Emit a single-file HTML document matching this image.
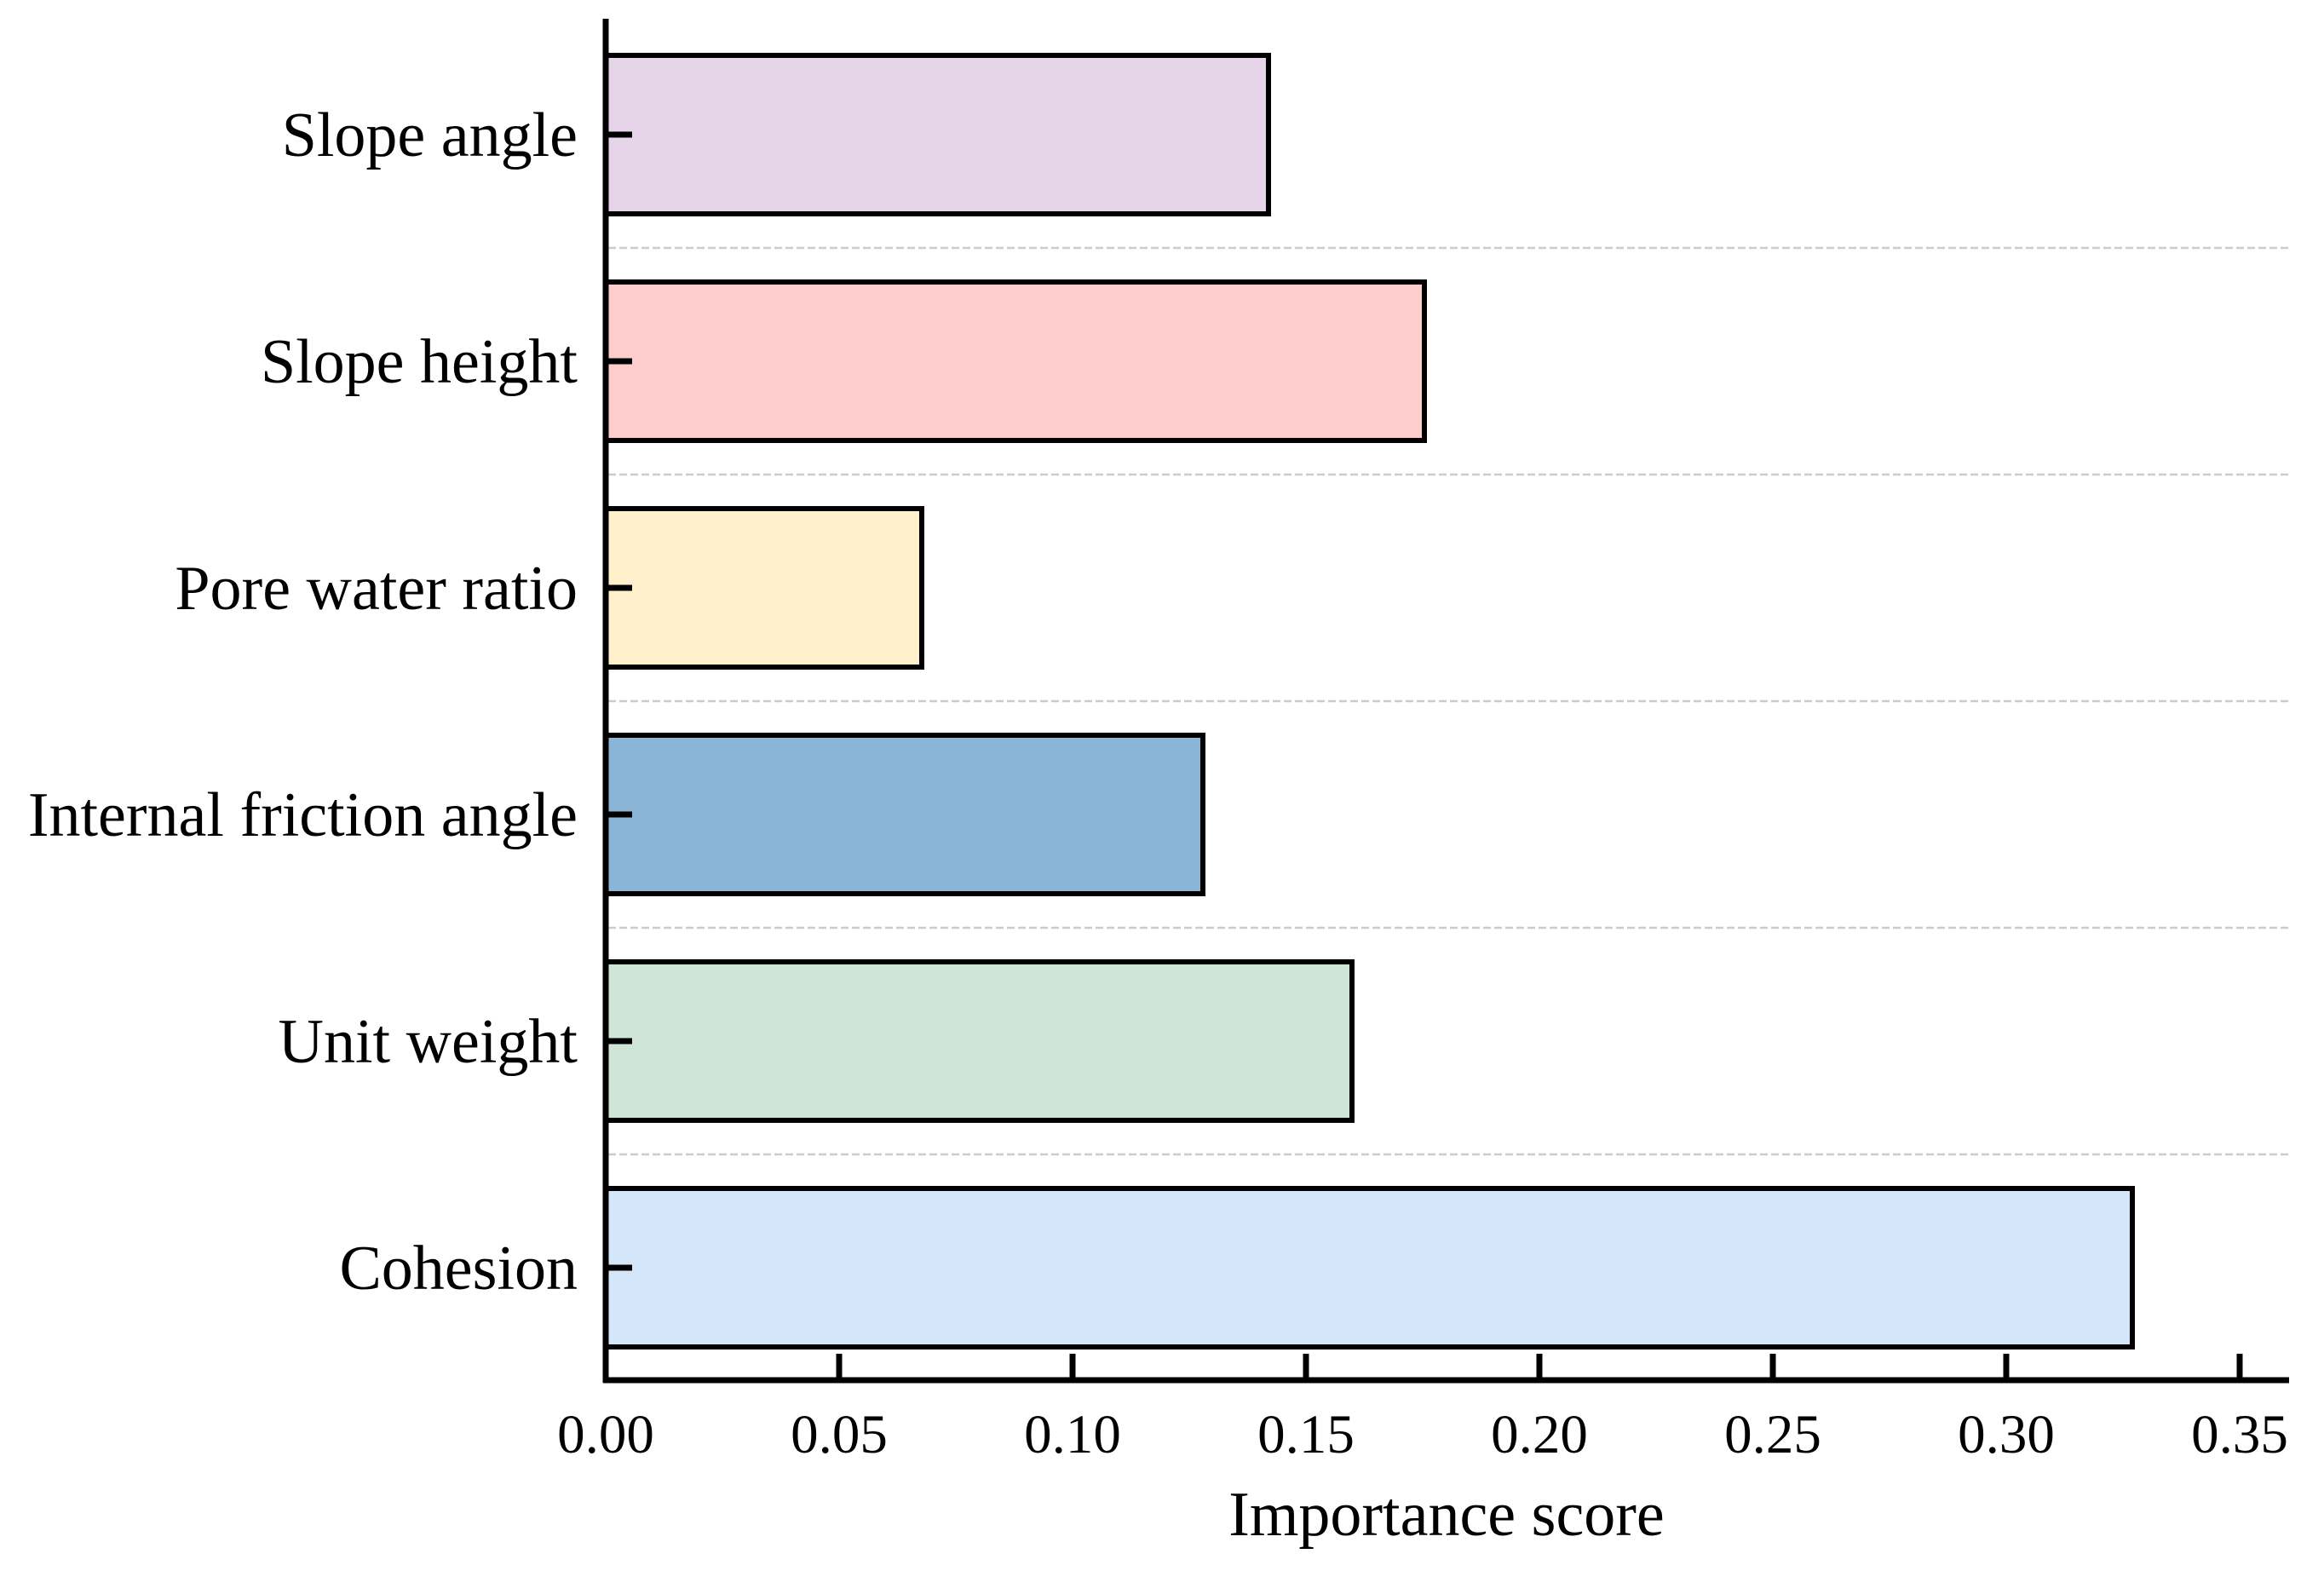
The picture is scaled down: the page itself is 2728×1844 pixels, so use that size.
<!DOCTYPE html>
<html><head><meta charset="utf-8"><style>html,body{margin:0;padding:0;background:#fff}svg{display:block}</style></head>
<body>
<svg width="2728" height="1844" viewBox="0 0 2728 1844" xmlns="http://www.w3.org/2000/svg" font-family="'Liberation Serif', serif">
<rect width="2728" height="1844" fill="#fff"/>
<g stroke="#cccccc" stroke-width="2.5" stroke-dasharray="9 4">
<line x1="714" y1="291" x2="2687" y2="291"/>
<line x1="714" y1="557" x2="2687" y2="557"/>
<line x1="714" y1="823" x2="2687" y2="823"/>
<line x1="714" y1="1089" x2="2687" y2="1089"/>
<line x1="714" y1="1355" x2="2687" y2="1355"/>
</g>
<g stroke="#000" stroke-width="6">
<rect x="711" y="65" width="778" height="186" fill="#e6d5e8"/>
<rect x="711" y="331" width="961" height="186" fill="#fdcdce"/>
<rect x="711" y="597" width="371" height="186" fill="#fff0cb"/>
<rect x="711" y="863" width="701" height="186" fill="#8bb5d7"/>
<rect x="711" y="1129" width="876" height="186" fill="#cfe6d7"/>
<rect x="711" y="1395" width="1792" height="186" fill="#d5e6fa"/>
</g>
<g stroke="#000" stroke-width="7">
<line x1="711" y1="22" x2="711" y2="1623"/>
<line x1="708" y1="1620" x2="2687" y2="1620"/>
<line x1="711" y1="158" x2="742" y2="158"/>
<line x1="711" y1="424" x2="742" y2="424"/>
<line x1="711" y1="690" x2="742" y2="690"/>
<line x1="711" y1="956" x2="742" y2="956"/>
<line x1="711" y1="1222" x2="742" y2="1222"/>
<line x1="711" y1="1488" x2="742" y2="1488"/>
<line x1="985" y1="1620" x2="985" y2="1589"/>
<line x1="1259" y1="1620" x2="1259" y2="1589"/>
<line x1="1533" y1="1620" x2="1533" y2="1589"/>
<line x1="1807" y1="1620" x2="1807" y2="1589"/>
<line x1="2081" y1="1620" x2="2081" y2="1589"/>
<line x1="2355" y1="1620" x2="2355" y2="1589"/>
<line x1="2629" y1="1620" x2="2629" y2="1589"/>
</g>
<g font-size="74" text-anchor="end" fill="#000">
<text x="678" y="183">Slope angle</text>
<text x="678" y="449">Slope height</text>
<text x="678" y="715">Pore water ratio</text>
<text x="678" y="981">Internal friction angle</text>
<text x="678" y="1247">Unit weight</text>
<text x="678" y="1513">Cohesion</text>
</g>
<g font-size="65" text-anchor="middle" fill="#000">
<text x="711" y="1705">0.00</text>
<text x="985" y="1705">0.05</text>
<text x="1259" y="1705">0.10</text>
<text x="1533" y="1705">0.15</text>
<text x="1807" y="1705">0.20</text>
<text x="2081" y="1705">0.25</text>
<text x="2355" y="1705">0.30</text>
<text x="2629" y="1705">0.35</text>
</g>
<text x="1698" y="1802" font-size="74" text-anchor="middle" fill="#000">Importance score</text>
</svg>
</body></html>
